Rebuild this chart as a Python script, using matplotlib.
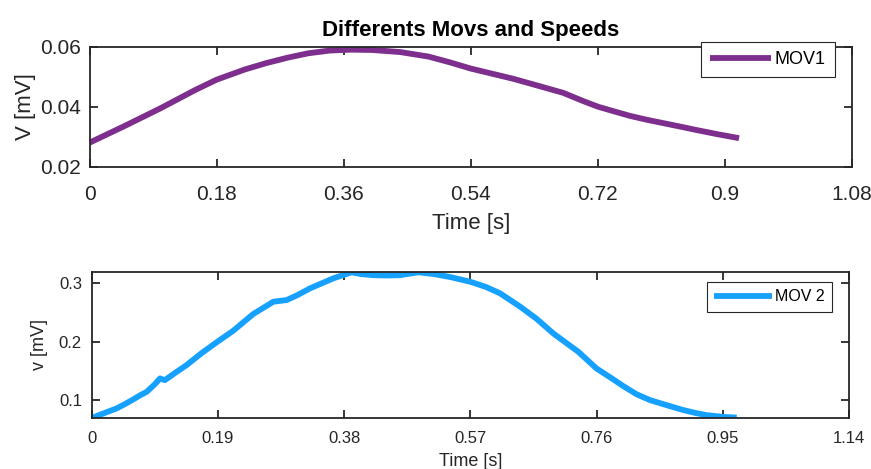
import matplotlib
matplotlib.use('Agg')
import matplotlib.pyplot as plt

plt.rcParams['font.family'] = ['Liberation Sans', 'DejaVu Sans']

# MOV1 samples
t1 = [0.0, 0.05, 0.10, 0.15, 0.18, 0.22, 0.25, 0.28, 0.31, 0.34, 0.37, 0.40,
      0.44, 0.48, 0.51, 0.54, 0.57, 0.60, 0.638, 0.671, 0.70, 0.72, 0.745,
      0.766, 0.79, 0.813, 0.84, 0.86, 0.89, 0.92]
v1 = [0.028, 0.0336, 0.0394, 0.0456, 0.0490, 0.0524, 0.0545, 0.0563, 0.0578,
      0.0587, 0.0590, 0.0589, 0.0582, 0.0567, 0.0548, 0.0527, 0.0510, 0.0493,
      0.0468, 0.0446, 0.0418, 0.0400, 0.0383, 0.0369, 0.0356, 0.0345, 0.0332,
      0.0322, 0.0308, 0.0295]

# MOV 2 samples
t2 = [0.0024, 0.02, 0.0376, 0.05, 0.0626, 0.0728, 0.0828, 0.095, 0.1028,
      0.110, 0.125, 0.143, 0.165, 0.1906, 0.213, 0.228, 0.243, 0.2734, 0.2935,
      0.31, 0.3286, 0.3637, 0.391, 0.405, 0.424, 0.444, 0.464, 0.4917, 0.515,
      0.539, 0.570, 0.593, 0.6146, 0.645, 0.67, 0.695, 0.7325, 0.760, 0.783,
      0.80, 0.820, 0.840, 0.860, 0.8906, 0.91, 0.9258, 0.951, 0.971]
v2 = [0.0702, 0.078, 0.0856, 0.093, 0.101, 0.108, 0.114, 0.127, 0.137,
      0.134, 0.146, 0.160, 0.180, 0.201, 0.2187, 0.233, 0.2473, 0.2685, 0.2714,
      0.280, 0.2914, 0.3086, 0.3189, 0.316, 0.314, 0.3135, 0.314, 0.319, 0.316,
      0.311, 0.3027, 0.294, 0.283, 0.260, 0.239, 0.214, 0.1827, 0.154, 0.137,
      0.124, 0.110, 0.100, 0.093, 0.0827, 0.0775, 0.074, 0.071, 0.0698]

xt1 = [0, 0.18, 0.36, 0.54, 0.72, 0.9, 1.08]
xt1_labels = ['0', '0.18', '0.36', '0.54', '0.72', '0.9', '1.08']
yt1 = [0.02, 0.04, 0.06]
xt2 = [0, 0.19, 0.38, 0.57, 0.76, 0.95, 1.14]
xt2_labels = ['0', '0.19', '0.38', '0.57', '0.76', '0.95', '1.14']
yt2 = [0.1, 0.2, 0.3]

dark = '#262626'
purple = '#7E2F8E'
blue = '#17A1FF'

fig = plt.figure(figsize=(8.71, 4.69), dpi=100)
ax1 = fig.add_axes([0.1028, 0.6446, 0.8754, 0.2559])
ax2 = fig.add_axes([0.1053, 0.1081, 0.8694, 0.3126])


def style(ax, size, xpad, ypad):
    for s in ax.spines.values():
        s.set_color(dark)
        s.set_linewidth(1.3)
    ax.tick_params(direction='in', length=6, width=1.3, colors=dark,
                   labelsize=size, top=True, right=True)
    ax.tick_params(axis='x', pad=xpad)
    ax.tick_params(axis='y', pad=ypad)


# top panel
ax1.plot(t1, v1, color=purple, linewidth=4.2, label='MOV1',
         solid_capstyle='butt')
ax1.set_xlim(0, 1.08)
ax1.set_ylim(0.02, 0.06)
ax1.set_xticks(xt1)
ax1.set_xticklabels(xt1_labels)
ax1.set_yticks(yt1)
ax1.set_yticklabels(['0.02', '0.04', '0.06'])
style(ax1, 15, 13, 6)
ax1.set_xlabel('Time [s]', fontsize=16, color=dark, labelpad=7)
ax1.set_ylabel('V [mV]', fontsize=16, color=dark, labelpad=3)
ax1.set_title('Differents Movs and Speeds', fontsize=16, fontweight='bold',
              color='black', pad=8)
leg1 = ax1.legend(loc='upper right', bbox_to_anchor=(0.9775, 1.04),
                  fontsize=13, fancybox=False, framealpha=1,
                  edgecolor=dark, handlelength=3.4, handletextpad=0.2,
                  borderpad=0.5, borderaxespad=0)
leg1.get_frame().set_linewidth(0.8)

# bottom panel
ax2.plot(t2, v2, color=blue, linewidth=4.2, label='MOV 2',
         solid_capstyle='butt')
ax2.set_xlim(0, 1.14)
ax2.set_ylim(0.0686, 0.32)
ax2.set_xticks(xt2)
ax2.set_xticklabels(xt2_labels)
ax2.set_yticks(yt2)
ax2.set_yticklabels(['0.1', '0.2', '0.3'])
style(ax2, 12, 9, 7)
ax2.set_xlabel('Time [s]', fontsize=13, color=dark, labelpad=5)
ax2.set_ylabel('v [mV]', fontsize=13, color=dark, labelpad=8)
leg2 = ax2.legend(loc='upper right', bbox_to_anchor=(0.9776, 0.928),
                  fontsize=11.5, fancybox=False, framealpha=1,
                  edgecolor=dark, handlelength=3.6, handletextpad=0.2,
                  borderpad=0.45, borderaxespad=0)
leg2.get_frame().set_linewidth(0.8)

fig.savefig('out.png', dpi=100)
